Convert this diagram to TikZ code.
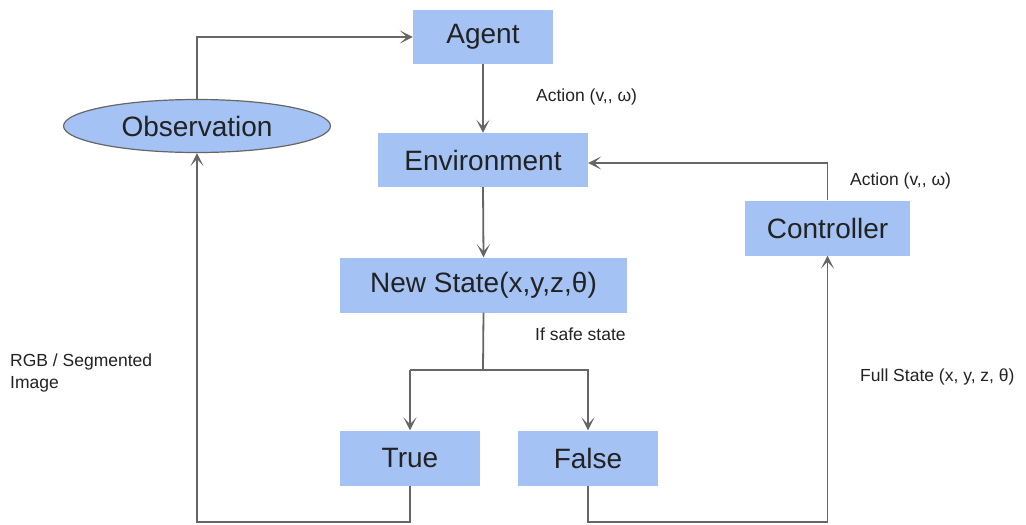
\documentclass[tikz,border=0pt]{standalone}
\usepackage{fontspec}
\setmainfont{Liberation Sans}
\usetikzlibrary{arrows.meta,shapes.geometric}
\definecolor{boxfill}{HTML}{A4C2F4}
\definecolor{wire}{HTML}{666666}
\definecolor{ink}{HTML}{222222}
\begin{document}
\begin{tikzpicture}[x=1pt,y=-1pt,
  blockbox/.style={draw=none,fill=boxfill,minimum height=54pt,inner sep=0pt,
    text=ink,font=\fontsize{28}{30}\selectfont},
  ovalbox/.style={ellipse,draw=wire,line width=1.2pt,fill=boxfill,minimum width=267pt,
    minimum height=53pt,inner sep=0pt,text=ink,font=\fontsize{28}{30}\selectfont},
  wirearrow/.style={draw=wire,line width=1.8pt,
    -{Stealth[length=13pt,width=13pt,inset=7pt]}},
  wireline/.style={draw=wire,line width=1.8pt},
  note/.style={text=ink,font=\fontsize{17.5}{22}\selectfont,inner sep=0pt,anchor=west}]
\useasboundingbox (0,0) rectangle (1026,525);

% blocks
\node[blockbox,minimum width=140pt] (agent) at (483,37) {\raisebox{-2pt}{Agent}};
\node[blockbox,minimum width=210pt] (env) at (483,160) {\raisebox{-2pt}{Environment}};
\node[blockbox,minimum width=287pt,minimum height=55pt] (state) at (483.5,285) {\raisebox{-2pt}{New State(x,y,z,θ)}};
\node[blockbox,minimum width=140pt,minimum height=55pt] (true) at (410,458) {\raisebox{-2pt}{True}};
\node[blockbox,minimum width=140pt,minimum height=55pt] (false) at (588,458) {\raisebox{-2pt}{False}};
\node[blockbox,minimum width=165pt,minimum height=55pt] (ctrl) at (827.5,228) {\raisebox{-2pt}{Controller}};
\node[ovalbox] (obs) at (197,126) {\raisebox{-1pt}{Observation}};

% junction points of the routed wires
\coordinate (split) at (483,370);
\coordinate (trueturn) at (410,370);
\coordinate (falseturn) at (588,370);

% main loop
\draw[wirearrow] (obs.north) |- (agent.west);
\draw[wirearrow] (agent.south) -- (env.north);
\draw[wirearrow] (env.south) -- (state.north);
\draw[wireline] (state.south) -- (split);
\draw[wirearrow] (trueturn) -- (falseturn) -- (false.north);
\draw[wirearrow] (trueturn) -- (true.north);
\draw[wirearrow] (true.south) -- ++(0,36) -| (obs.south);
\draw[wirearrow] (false.south) -- ++(0,36) -| (ctrl.south);
\draw[wirearrow] (ctrl.north) |- ([yshift=-3pt]env.east);

% labels
\node[note] (lact1) at (536,97) {Action (v,{},{} ω)};
\node[note] (lact2) at (850,181) {Action (v,{},{} ω)};
\node[note] (lsafe) at (535,334) {If safe state};
\node[note] (lfull) at (860,377) {Full State (x, y, z, θ)};
\node[note,align=left] (lrgb) at (10,373) {RGB / Segmented\\Image};
\end{tikzpicture}
\end{document}
